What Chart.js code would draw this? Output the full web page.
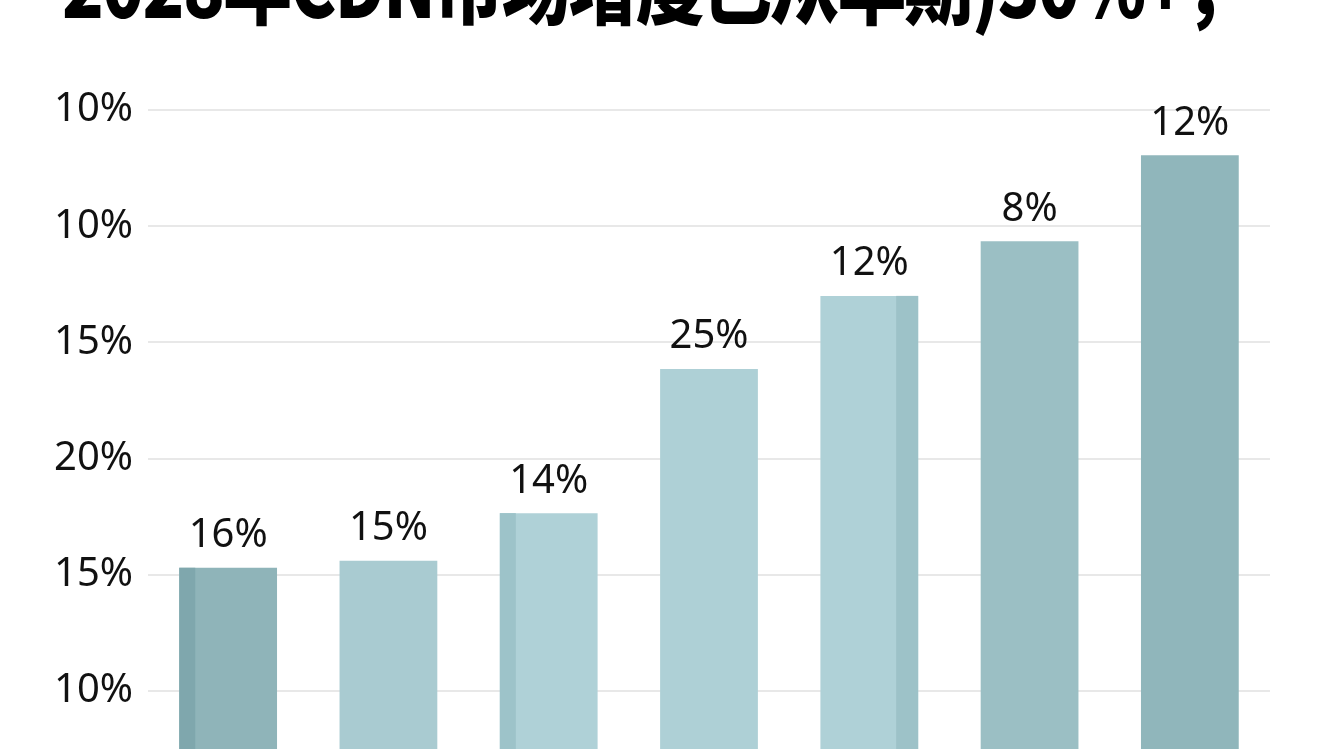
<!DOCTYPE html>
<html>
<head>
<meta charset="utf-8">
<script src="https://cdn.jsdelivr.net/npm/chart.js@4/dist/chart.umd.min.js"></script>
<style>
  html, body { margin: 0; padding: 0; background: #ffffff; overflow: hidden; }
  #wrap { position: relative; width: 1344px; height: 750px; overflow: hidden; }
  #title {
    position: absolute; left: 62px; top: -62px; white-space: nowrap;
    font-family: "Noto Sans CJK SC", sans-serif; font-weight: 900;
    font-size: 86px; line-height: 86px; color: #000; letter-spacing: -2px;
    transform: scaleX(0.8); transform-origin: left top;
  }
  canvas { position: absolute; left: 0; top: 0; }
</style>
</head>
<body>
<div id="wrap">
  <div id="title">2028年CDN市场增度已从早期)30%+，</div>
  <canvas id="chart" width="1344" height="788"></canvas>
</div>
<script>
// categories (no visible x labels in the picture)
const categories = ['1', '2', '3', '4', '5', '6', '7'];
// bar heights in axis units (gridlines sit at 0.5, 1.5, ... 5.5)
const barHeights = [1.56, 1.62, 2.03, 3.27, 3.90, 4.37, 5.11];
// the text printed above each bar
const barLabels = ['16%', '15%', '14%', '25%', '12%', '8%', '12%'];
// y tick positions and the (odd) labels printed next to them, bottom to top
const tickValues = [0.5, 1.5, 2.5, 3.5, 4.5, 5.5];
const tickLabels = ['10%', '15%', '20%', '15%', '10%', '10%'];

const barColors = ['#8fb4b9', '#a9cbd1', '#afd1d7', '#aed0d6', '#afd1d7', '#9bbfc4', '#90b6bb'];
// darker side strip for the fake 3D look: side and colour per bar
const stripSide = ['left', null, 'left', null, 'right', null, null];
const stripColor = ['#7fa7ad', null, '#9dc3c9', null, '#9dc2c8', null, null];

// value labels and side strips
const barDecor = {
  id: 'barDecor',
  afterDatasetsDraw: (chart) => {
    const ctx = chart.ctx;
    const meta = chart.getDatasetMeta(0);
    ctx.save();
    meta.data.forEach((bar, i) => {
      const left = bar.x - bar.width / 2;
      const right = bar.x + bar.width / 2;
      if (stripSide[i]) {
        ctx.fillStyle = stripColor[i];
        const sx = stripSide[i] === 'left' ? left : right - 22;
        const w = stripSide[i] === 'left' ? 16 : 22;
        ctx.fillRect(sx, bar.y, w, bar.base - bar.y);
      }
      ctx.font = '40px "Noto Sans", sans-serif';
      ctx.fillStyle = '#111111';
      ctx.textAlign = 'center';
      ctx.textBaseline = 'middle';
      ctx.fillText(barLabels[i], bar.x, bar.y - 32);
    });
    ctx.restore();
  },
};

const ctx = document.getElementById('chart').getContext('2d');
new Chart(ctx, {
  type: 'bar',
  data: {
    labels: categories,
    datasets: [
      {
        data: barHeights,
        backgroundColor: barColors,
        borderWidth: 0,
        barPercentage: 0.61,
        categoryPercentage: 1,
      },
    ],
  },
  options: {
    responsive: false,
    animation: false,
    layout: { padding: { left: 0, right: 74, top: 110, bottom: 0 } },
    plugins: {
      legend: { display: false },
      tooltip: { enabled: false },
    },
    scales: {
      x: { display: false },
      y: {
        min: 0,
        max: 5.5,
        afterBuildTicks: (scale) => {
          scale.ticks = tickValues.map((v) => ({ value: v }));
        },
        afterFit: (scale) => {
          scale.width = 148;
        },
        border: { display: false },
        grid: { color: '#e8e8e8', lineWidth: 2, drawTicks: false },
        ticks: {
          padding: 15,
          color: '#111111',
          font: { family: '"Noto Sans", sans-serif', size: 40 },
          callback: (value) => tickLabels[tickValues.indexOf(value)],
        },
      },
    },
  },
  plugins: [barDecor],
});
</script>
</body>
</html>
